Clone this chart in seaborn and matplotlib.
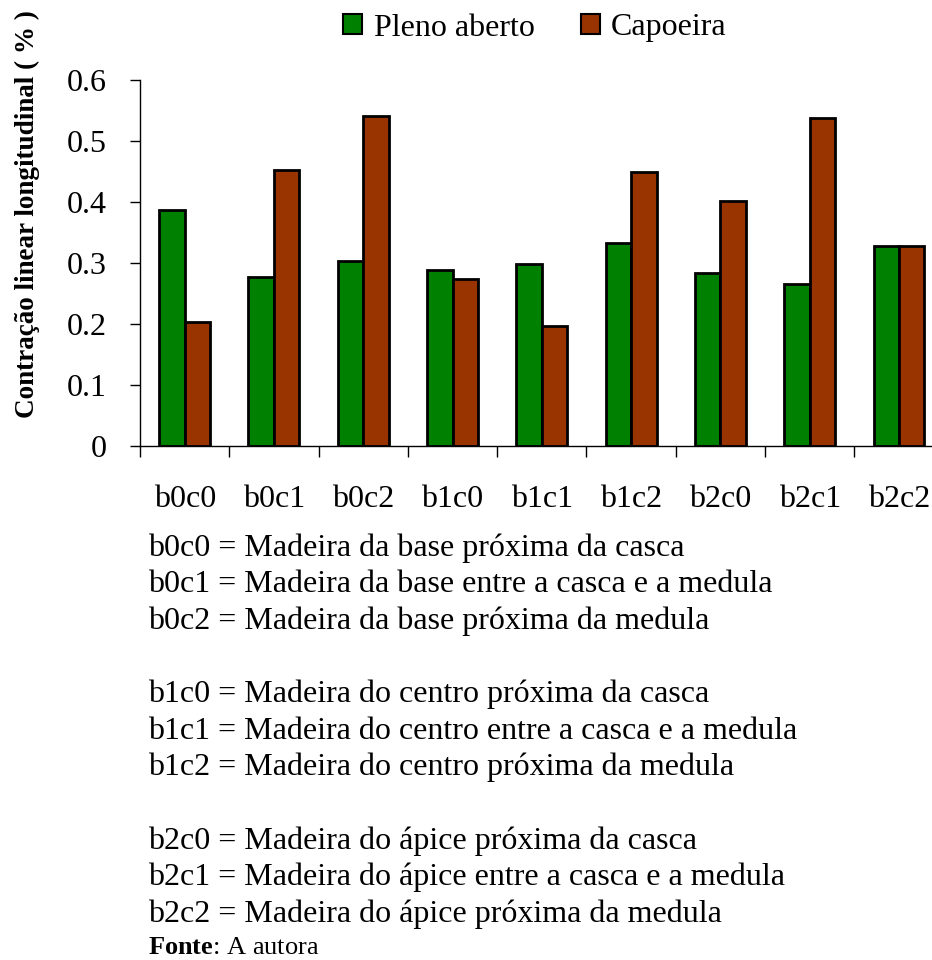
import matplotlib

matplotlib.use("Agg")

import matplotlib.pyplot as plt
import pandas as pd
import seaborn as sns
from matplotlib.ticker import FixedLocator

categories = ["b0c0", "b0c1", "b0c2", "b1c0", "b1c1", "b1c2", "b2c0", "b2c1", "b2c2"]
pleno_aberto = [0.387, 0.277, 0.303, 0.288, 0.299, 0.332, 0.284, 0.266, 0.328]
capoeira = [0.204, 0.453, 0.541, 0.273, 0.197, 0.450, 0.402, 0.537, 0.328]
series_names = ["Pleno aberto", "Capoeira"]
y_ticks = [0, 0.1, 0.2, 0.3, 0.4, 0.5, 0.6]
y_tick_labels = ["0", "0.1", "0.2", "0.3", "0.4", "0.5", "0.6"]

legend_lines = [
    "b0c0 = Madeira da base próxima da casca",
    "b0c1 = Madeira da base entre a casca e a medula",
    "b0c2 = Madeira da base próxima da medula",
    "",
    "b1c0 = Madeira do centro próxima da casca",
    "b1c1 = Madeira do centro entre a casca e a medula",
    "b1c2 = Madeira do centro próxima da medula",
    "",
    "b2c0 = Madeira do ápice próxima da casca",
    "b2c1 = Madeira do ápice entre a casca e a medula",
    "b2c2 = Madeira do ápice próxima da medula",
]

df = pd.DataFrame({
    "Categoria": categories * 2,
    "Valor": pleno_aberto + capoeira,
    "Local": [series_names[0]] * len(categories) + [series_names[1]] * len(categories),
})

sns.set_style("white")
plt.rcParams["font.family"] = ["Liberation Serif", "DejaVu Serif"]
plt.rcParams["mathtext.fontset"] = "custom"
plt.rcParams["mathtext.bf"] = "Liberation Serif:bold"
plt.rcParams["text.color"] = "black"
plt.rcParams["xtick.color"] = "black"
plt.rcParams["ytick.color"] = "black"

fig = plt.figure(figsize=(9.32, 9.60), dpi=100)
ax = fig.add_axes([140 / 932, 1 - 446 / 960, 1 - 140 / 932, (446 - 80) / 960])

sns.barplot(
    data=df, x="Categoria", y="Valor", hue="Local", ax=ax,
    palette=["#008000", "#993300"], width=0.57, gap=0,
    edgecolor="black", linewidth=2, saturation=1, legend=False,
)

ax.set_xlim(-0.5, 8.37)
ax.set_ylim(0, 0.6)
ax.set_yticks(y_ticks)
ax.set_yticklabels(y_tick_labels)
ax.xaxis.set_minor_locator(FixedLocator([i - 0.5 for i in range(len(categories) + 1)]))
ax.tick_params(axis="x", which="major", length=0, pad=28, labelsize=23)
ax.tick_params(axis="x", which="minor", length=8, width=1, color="black", direction="out", bottom=True)
ax.tick_params(axis="y", length=7, width=1, color="black", direction="out", left=True, pad=17, labelsize=23)
ax.set_xlabel("")
ax.set_ylabel("")
sns.despine(ax=ax)
for side in ["left", "bottom"]:
    ax.spines[side].set_color("black")
    ax.spines[side].set_linewidth(1)

fig.text(27 / 932, 1 - 214 / 960, "Contração linear longitudinal ( % )", rotation=90,
         ha="center", va="center", fontsize=19.5, fontweight="bold")

handles = [plt.Rectangle((0, 0), 1, 1, facecolor=c, edgecolor="black", linewidth=1.5)
           for c in ["#008000", "#993300"]]
fig.legend(handles, series_names, loc="center", bbox_to_anchor=(535 / 932, 1 - 28 / 960),
           ncol=2, frameon=False, fontsize=23, handlelength=0.6, handleheight=0.6,
           handletextpad=0.35, columnspacing=1.45)

y_pos = 548
for line in legend_lines:
    if line:
        fig.text(148 / 932, 1 - y_pos / 960, line, ha="left", va="center", fontsize=23)
    y_pos += 36.6

fig.text(148 / 932, 1 - 948 / 960, r"$\mathbf{Fonte}$: A autora", ha="left", va="center", fontsize=19)

fig.savefig("out.png", dpi=100)
